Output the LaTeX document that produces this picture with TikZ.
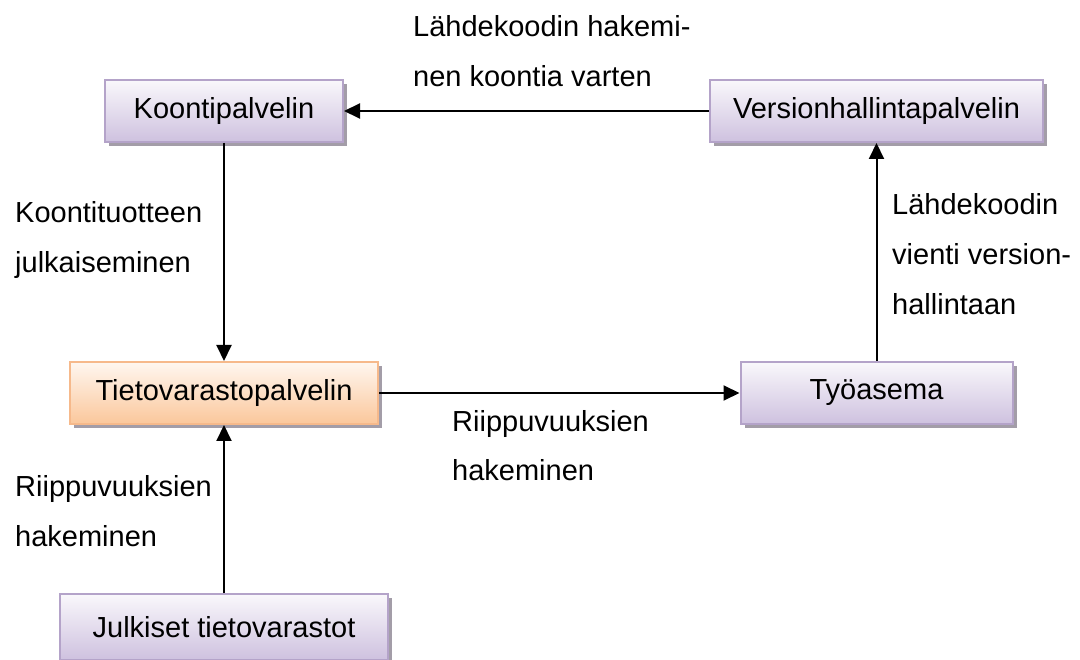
\documentclass[tikz,border=0pt]{standalone}
\usepackage{fontspec}
\setmainfont{Liberation Sans}
\usetikzlibrary{arrows.meta, positioning, shadows}

\definecolor{lilaborder}{HTML}{B4A3C9}
\definecolor{lilafill}{HTML}{CEC1DF}
\definecolor{orangeborder}{HTML}{F6B98B}
\definecolor{orangefill}{HTML}{FBC79B}
\definecolor{shadowgray}{HTML}{A39DA8}

\begin{document}
\begin{tikzpicture}[
  x=1pt, y=-1pt,
  box/.style={rectangle, draw=lilaborder, line width=2pt, top color=lilafill!12, bottom color=lilafill, minimum height=62pt, font=\fontsize{29}{50}\selectfont, drop shadow={shadow xshift=4pt, shadow yshift=-4pt, fill=shadowgray, opacity=1}},
  repo/.style={box, draw=orangeborder, top color=orangefill!15, bottom color=orangefill},
  lbl/.style={anchor=base west, align=left, inner sep=0pt, font=\fontsize{29}{50}\selectfont},
  arrow/.style={-{Triangle[length=16pt, width=15pt]}, line width=2pt}
]
\useasboundingbox (0,0) rectangle (1080,660);

\node[box, minimum width=238pt] (koonti) at (224,111) {Koontipalvelin};
\node[box, minimum width=333pt, right=365pt of koonti] (versio) {Versionhallintapalvelin};
\node[repo, minimum width=308pt, below=218pt of koonti] (tieto) {Tietovarastopalvelin};
\node[box, minimum width=272pt, below=218pt of versio] (tyoasema) {Työasema};
\node[box, minimum width=328pt, minimum height=66pt, below=168pt of tieto] (julkiset) {Julkiset tietovarastot};

\node[lbl] (lblhaku) at (413,87) {Lähdekoodin hakemi-\\nen koontia varten};
\node[lbl] (lbljulkaisu) at (15,273) {Koontituotteen\\julkaiseminen};
\node[lbl] (lblvienti) at (892,315) {Lähdekoodin\\vienti version-\\hallintaan};
\node[lbl] (lblriippu) at (452,481) {Riippuvuuksien\\hakeminen};
\node[lbl] (lblulkoiset) at (15,546) {Riippuvuuksien\\hakeminen};

\draw[arrow] (versio) -- (koonti);
\draw[arrow] (koonti) -- (tieto);
\draw[arrow] (tieto) -- (tyoasema);
\draw[arrow] (tyoasema) -- (versio);
\draw[arrow] (julkiset) -- (tieto);
\end{tikzpicture}
\end{document}
